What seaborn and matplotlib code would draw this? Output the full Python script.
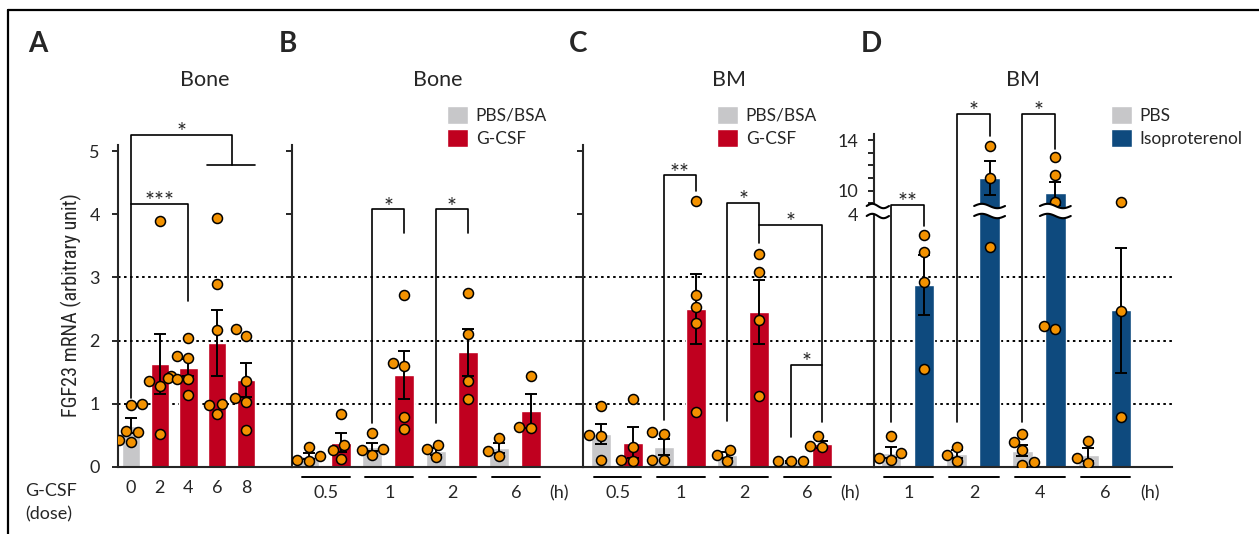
import matplotlib
matplotlib.use("Agg")
import matplotlib.pyplot as plt
import numpy as np
import pandas as pd
import seaborn as sns
from matplotlib import font_manager
from matplotlib.lines import Line2D
from matplotlib.patches import Patch

sns.set_theme(style="ticks")
installed = {f.name for f in font_manager.fontManager.ttflist}
BASE_FONT = "Lato" if "Lato" in installed else "DejaVu Sans"
NARROW_FONT = next((f for f in ["Liberation Sans Narrow", "Roboto Condensed"] if f in installed), BASE_FONT)
plt.rcParams["font.family"] = [BASE_FONT, "DejaVu Sans"]

# ── values ──────────────────────────────────────────────────────────────────
A_DOSES = ["0", "2", "4", "6", "8"]
A_TREAT = ["PBS/BSA", "G-CSF", "G-CSF", "G-CSF", "G-CSF"]
A_MEAN = [0.65, 1.63, 1.57, 1.96, 1.38]
A_SEM = [0.12, 0.48, 0.13, 0.52, 0.27]
A_POINTS = [
    [0.97, 1.00, 0.57, 0.54, 0.39, 0.42],
    [3.90, 1.44, 1.41, 1.35, 1.27, 0.51],
    [2.04, 1.73, 1.75, 1.39, 1.39, 1.14],
    [3.95, 2.89, 2.17, 1.00, 0.97, 0.83],
    [2.07, 2.18, 1.36, 1.02, 1.09, 0.58],
]

B_TIMES = ["0.5", "1", "2", "6"]
B_GROUPS = ["PBS/BSA", "G-CSF"]
B_MEAN = [0.17, 0.38, 0.31, 1.45, 0.24, 1.81, 0.29, 0.88]
B_SEM = [0.05, 0.15, 0.07, 0.38, 0.05, 0.38, 0.08, 0.27]
B_POINTS = [
    [0.09, 0.16, 0.31, 0.11], [0.83, 0.34, 0.26, 0.12],
    [0.53, 0.18, 0.27, 0.26], [2.72, 1.65, 1.59, 0.78, 0.59],
    [0.34, 0.15, 0.27], [2.76, 2.11, 1.35, 1.07],
    [0.45, 0.17, 0.25], [1.43, 0.61, 0.63],
]

C_TIMES = ["0.5", "1", "2", "6"]
C_GROUPS = ["PBS/BSA", "G-CSF"]
C_MEAN = [0.51, 0.38, 0.31, 2.50, 0.18, 2.45, 0.07, 0.35]
C_SEM = [0.16, 0.25, 0.12, 0.55, 0.05, 0.51, 0.01, 0.06]
C_POINTS = [
    [0.96, 0.49, 0.50, 0.11], [1.07, 0.31, 0.09, 0.11],
    [0.52, 0.55, 0.10, 0.10], [4.22, 2.73, 2.53, 2.28, 0.87],
    [0.26, 0.08, 0.18], [3.37, 3.08, 2.33, 1.12],
    [0.08, 0.08, 0.08], [0.48, 0.31, 0.33],
]

D_TIMES = ["1", "2", "4", "6"]
D_GROUPS = ["PBS", "Isoproterenol"]
D_MEAN = [0.22, 2.88, 0.20, 10.98, 0.25, 9.78, 0.19, 2.48]
D_SEM = [0.09, 0.47, 0.06, 1.34, 0.09, 0.92, 0.10, 0.99]
D_POINTS = [
    [0.48, 0.21, 0.11, 0.13], [3.67, 3.41, 2.93, 1.55],
    [0.31, 0.08, 0.18], [13.52, 10.98, 3.48],
    [0.52, 0.39, 0.26, 0.03, 0.07], [12.63, 11.24, 9.13, 2.19, 2.23],
    [0.41, 0.06, 0.14], [9.13, 2.47, 0.79],
]

GRAY, RED, BLUE, ORANGE = "#C7C7C9", "#C0001F", "#0E4A7E", "#F39200"

# panel D axis break: 4 .. 8.1 is cut out, above it a unit is 1/5 as tall
BREAK_LO, BREAK_HI, UPPER_RATIO = 4.0, 8.1, 0.2


def fwd(v):
    v = np.asarray(v, dtype=float)
    return np.where(v <= BREAK_LO, v,
                    np.where(v < BREAK_HI, BREAK_LO, BREAK_LO + (v - BREAK_HI) * UPPER_RATIO))


def inv(y):
    y = np.asarray(y, dtype=float)
    return np.where(y <= BREAK_LO, y, BREAK_HI + (y - BREAK_LO) / UPPER_RATIO)


# ── layout (pixels of the 1259x534 canvas) ─────────────────────────────────
W, H = 1259, 534
TOP_PX, BASE_PX, UNIT_PX = 130, 466.5, 63.0
AX_H = BASE_PX - TOP_PX
Y_TOP = AX_H / UNIT_PX
TICK_FS, TITLE_FS, LEG_FS, STAR_FS = 13, 15.5, 12.5, 17
BAR_W = 0.63
UNDER_Y = -10.2 / AX_H


def fx(px):
    return px / W


def fy(py):
    return 1 - py / H


def paired_labels(times, groups):
    return [f"{t} {g}" for t in times for g in groups], [g for t in times for g in groups]


def draw_panel(ax, labels, treat, mean, sem, points, palette):
    bars = pd.DataFrame({"bar": labels, "treat": treat, "mean": mean})
    sns.barplot(data=bars, x="bar", y="mean", hue="treat", order=labels,
                hue_order=list(palette), palette=palette, dodge=False, width=BAR_W,
                errorbar=None, saturation=1, legend=False, ax=ax, zorder=2)
    pos = ax.get_xticks()
    ax.errorbar(pos, mean, yerr=sem, fmt="none", ecolor="black", elinewidth=1.4,
                capsize=4, capthick=1.4, zorder=3)
    pts = pd.DataFrame({"bar": np.repeat(labels, [len(p) for p in points]),
                        "value": np.concatenate(points)})
    sns.swarmplot(data=pts, x="bar", y="value", order=labels, color=ORANGE, size=7.2,
                  edgecolor="black", linewidth=1.1, ax=ax, zorder=5)
    for v in (1, 2, 3):
        ax.axhline(v, color="black", lw=1.4, ls=(0, (1.3, 1.8)), zorder=1)
    return pos


def style_axes(ax, xlim, spine_top):
    ax.set_xlim(*xlim)
    sns.despine(ax=ax)
    ax.spines["left"].set_bounds(0, spine_top)
    for s in ("left", "bottom"):
        ax.spines[s].set_linewidth(1.5)
    ax.set_xlabel("")
    ax.set_ylabel("")
    ax.tick_params(axis="y", length=4, width=1.4, pad=9, labelsize=TICK_FS)
    ax.tick_params(axis="x", length=0, labelsize=TICK_FS)
    ax.set_facecolor("none")


def group_axis(ax, times, hlabel_x=7.87):
    centers = [2 * i + 0.53 for i in range(len(times))]
    ax.set_xticks(centers, times)
    ax.tick_params(axis="x", pad=13.5)
    trans = ax.get_xaxis_transform()
    for c in centers:
        ax.plot([c - 0.75, c + 0.75], [UNDER_Y, UNDER_Y], color="black", lw=1.4,
                transform=trans, clip_on=False)
    ax.annotate("(h)", xy=(hlabel_x, 0), xycoords=("data", "axes fraction"),
                xytext=(0, -13.5), textcoords="offset points", ha="center", va="top",
                fontsize=TICK_FS, annotation_clip=False)


def bracket(ax, xs, ys, label=None, label_x=None):
    ax.plot(xs, ys, color="black", lw=1.2, clip_on=False, zorder=6)
    if label:
        ax.annotate(label, xy=(label_x, max(ys)), xytext=(0, -3), textcoords="offset points",
                    ha="center", va="baseline", fontsize=STAR_FS, zorder=7,
                    annotation_clip=False)


def draw_break(ax, xc, half_w):
    blend = ax.get_xaxis_transform()
    yc = (BASE_PX - 211) / AX_H
    gap, amp = 5 / AX_H, 2.2 / AX_H
    xs = np.linspace(xc - half_w, xc + half_w, 40)
    wave = amp * np.sin(np.linspace(0, 2 * np.pi, 40))
    upper, lower = yc + gap + wave, yc - gap + wave
    ax.fill_between(xs, lower, upper, color="white", lw=0, transform=blend,
                    clip_on=False, zorder=5.5)
    for ys in (upper, lower):
        ax.plot(xs, ys, color="black", lw=1.5, transform=blend, clip_on=False, zorder=5.6)


fig = plt.figure(figsize=(W / 100, H / 100), dpi=100)
AX_PX = {"A": (118, 292), "B": (292, 583), "C": (583, 874), "D": (874, 1172)}
axes = {k: fig.add_axes([fx(l), fy(BASE_PX), (r - l) / W, AX_H / H])
        for k, (l, r) in AX_PX.items()}
axA, axB, axC, axD = axes["A"], axes["B"], axes["C"], axes["D"]
axD.set_yscale("function", functions=(fwd, inv))

pal_g = {"PBS/BSA": GRAY, "G-CSF": RED}
pal_d = {"PBS": GRAY, "Isoproterenol": BLUE}

# A
posA = draw_panel(axA, A_DOSES, A_TREAT, A_MEAN, A_SEM, A_POINTS, pal_g)
style_axes(axA, (-0.452, 5.6), 5.1)
axA.set_ylim(0, Y_TOP)
axA.set_yticks(range(6))
axA.set_xticks(posA, A_DOSES)
axA.tick_params(axis="x", pad=10)

# B, C
for ax, times, groups, mean, sem, points, xlim in [
    (axB, B_TIMES, B_GROUPS, B_MEAN, B_SEM, B_POINTS, (-0.536, 8.64)),
    (axC, C_TIMES, C_GROUPS, C_MEAN, C_SEM, C_POINTS, (-0.57, 8.64)),
]:
    labels, treat = paired_labels(times, groups)
    draw_panel(ax, labels, treat, mean, sem, points, pal_g)
    style_axes(ax, xlim, 5.1)
    ax.set_ylim(0, Y_TOP)
    ax.set_yticks(range(1, 6), [""] * 5)
    group_axis(ax, times)
    ax.legend(handles=[Patch(facecolor=GRAY, label=groups[0]),
                       Patch(facecolor=RED, label=groups[1])],
              loc="upper left", bbox_to_anchor=(fx(447 if ax is axB else 717), fy(106)),
              bbox_transform=fig.transFigure, frameon=False, fontsize=LEG_FS,
              handlelength=1.2, handleheight=1.2, handletextpad=0.45,
              labelspacing=0.3, borderpad=0, borderaxespad=0)

# D
labels, treat = paired_labels(D_TIMES, D_GROUPS)
draw_panel(axD, labels, treat, D_MEAN, D_SEM, D_POINTS, pal_d)
style_axes(axD, (-0.517, 8.55), 14.49)
axD.set_ylim(0, float(inv(Y_TOP)))
d_ticks = [1, 2, 3, 4, 9, 10, 11, 12, 13, 14]
axD.set_yticks(d_ticks, [str(t) if t in (4, 10, 14) else "" for t in d_ticks])
axD.tick_params(axis="y", pad=7)
group_axis(axD, D_TIMES)
axD.legend(handles=[Patch(facecolor=GRAY, label=D_GROUPS[0]),
                    Patch(facecolor=BLUE, label=D_GROUPS[1])],
           loc="upper left", bbox_to_anchor=(fx(1111), fy(106)),
           bbox_transform=fig.transFigure, frameon=False, fontsize=LEG_FS,
           handlelength=1.2, handleheight=1.2, handletextpad=0.45,
           labelspacing=0.3, borderpad=0, borderaxespad=0)
draw_break(axD, -0.40, 0.34)
for i, m in enumerate(D_MEAN):
    if m > BREAK_HI:
        draw_break(axD, i, 0.47)

# significance brackets
bracket(axA, [0, 0, 3.5, 3.5], [1.09, 5.26, 5.26, 4.79], "*", 1.75)
bracket(axA, [2.64, 4.31], [4.79, 4.79])
bracket(axA, [0, 2, 2], [4.17, 4.17, 2.62], "***", 1.0)
bracket(axB, [2, 2, 3, 3], [0.69, 4.08, 4.08, 3.70], "*", 2.5)
bracket(axB, [4, 4, 5, 5], [0.69, 4.08, 4.08, 3.70], "*", 4.5)
bracket(axC, [2, 2, 3, 3], [0.74, 4.62, 4.62, 4.38], "**", 2.5)
bracket(axC, [4, 4, 5, 5], [0.73, 4.19, 4.19, 3.55], "*", 4.5)
bracket(axC, [5, 7, 7], [3.83, 3.83, 0.71], "*", 6.0)
bracket(axC, [6, 6, 7], [0.47, 1.61, 1.61], "*", 6.5)
bracket(axD, [0, 0, 1, 1], [0.71, 8.87, 8.87, 3.81], "**", 0.5)
bracket(axD, [2, 2, 3, 3], [0.70, 16.1, 16.1, 14.31], "*", 2.5)
bracket(axD, [4, 4, 5, 5], [0.70, 16.1, 16.1, 13.26], "*", 4.5)

# titles, panel letters, labels
for letter, x in zip("ABCD", (28, 279, 569, 861)):
    fig.text(fx(x), fy(51.7), letter, fontsize=20, fontweight="bold", va="baseline")
for title, x in zip(["Bone", "Bone", "BM", "BM"], (205, 438, 729, 1023)):
    fig.text(fx(x), fy(86), title, fontsize=TITLE_FS, ha="center", va="baseline")
fig.text(fx(25), fy(496.5), "G-CSF", fontsize=TICK_FS, va="baseline")
fig.text(fx(25), fy(519), "(dose)", fontsize=TICK_FS, va="baseline")
fig.text(fx(71), fy(305), "FGF23 mRNA (arbitrary unit)", rotation=90, ha="center",
         va="center", fontsize=14.5, family=[NARROW_FONT, "DejaVu Sans"])

# frame lines at top and left
fig.add_artist(Line2D([fx(8), 1], [fy(10), fy(10)], transform=fig.transFigure, color="black", lw=1.6))
fig.add_artist(Line2D([fx(8), fx(8)], [0, fy(10)], transform=fig.transFigure, color="black", lw=1.6))

fig.savefig("out.png", dpi=100)
